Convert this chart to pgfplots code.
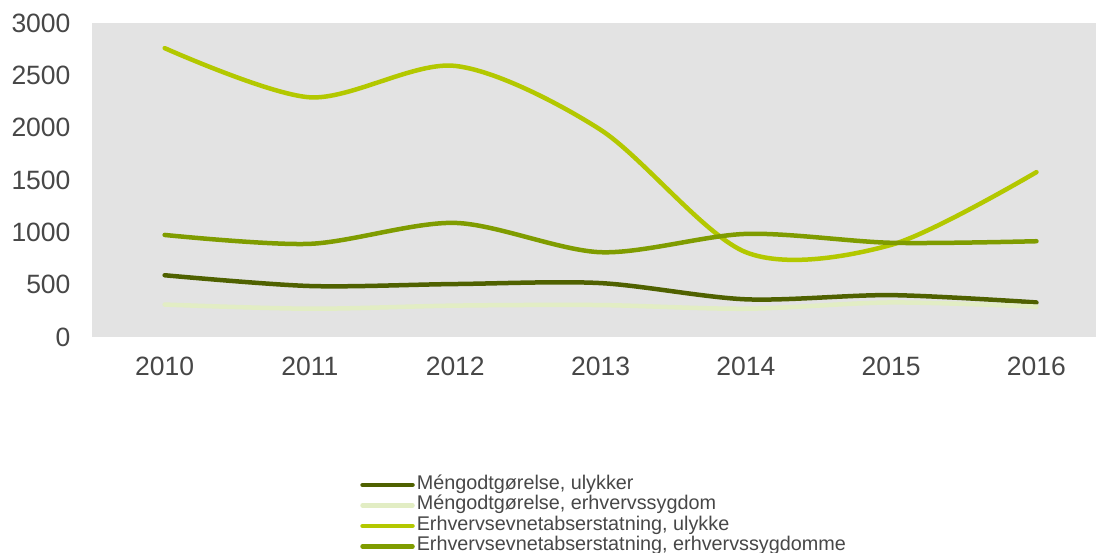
\documentclass[border=0pt]{standalone}
\usepackage{pgfplots}
\pgfplotsset{compat=1.18}
\usepackage{fontspec}
\setmainfont{Liberation Sans}
\definecolor{cA}{HTML}{4F6100}
\definecolor{cB}{HTML}{E2EDC4}
\definecolor{cC}{HTML}{B3C800}
\definecolor{cD}{HTML}{7F9C00}
\definecolor{txt}{HTML}{474747}
\definecolor{bg}{HTML}{E3E3E3}
\begin{document}
\begin{tikzpicture}
\begin{axis}[
  at={(92pt,216pt)}, anchor=south west,
  scale only axis, width=1004pt, height=314pt,
  xmin=2009.5, xmax=2016.41, ymin=0, ymax=3000,
  xtick={2010,2011,2012,2013,2014,2015,2016},
  ytick={0,500,1000,1500,2000,2500,3000},
  /pgf/number format/1000 sep={},
  /pgf/number format/assume math mode=true,
  tick label style={font=\fontsize{26.5}{26.5}\selectfont, text=txt},
  xticklabel style={yshift=-16pt},
  yticklabel style={xshift=-18pt},
  major tick length=0pt,
  axis line style={draw=none},
  axis background/.style={fill=bg},
  clip=false,
  legend style={at={(rel axis cs:0.267,-0.438)}, anchor=north west,
    draw=none, fill=none, inner sep=0pt,
    font=\fontsize{19.8}{21}\selectfont, text=txt,
    nodes={inner sep=0pt, text height=14.5pt, text depth=6pt, anchor=west},
    column sep=2pt},
  legend cell align=left,
  legend image code/.code={\draw[#1, line width=4.5pt, line cap=round] (0pt,0pt) -- (50pt,0pt);},
  every axis plot/.append style={line width=4.5pt, line cap=round, smooth, tension=0.5, no marks},
]
\addplot[cA] coordinates {(2010,590) (2011,487) (2012,506) (2013,515) (2014,360) (2015,400) (2016,330)};
\addlegendentry{Méngodtgørelse, ulykker}
\addplot[cB] coordinates {(2010,310) (2011,270) (2012,300) (2013,305) (2014,270) (2015,330) (2016,290)};
\addlegendentry{Méngodtgørelse, erhvervssygdom}
\addplot[cC] coordinates {(2010,2760) (2011,2290) (2012,2590) (2013,1980) (2014,810) (2015,880) (2016,1575)};
\addlegendentry{Erhvervsevnetabserstatning, ulykke}
\addplot[cD] coordinates {(2010,975) (2011,890) (2012,1090) (2013,810) (2014,985) (2015,900) (2016,915)};
\addlegendentry{Erhvervsevnetabserstatning, erhvervssygdomme}
\end{axis}
\pgfresetboundingbox
\path[use as bounding box] (0,0) rectangle (1096pt,553pt);
\end{tikzpicture}
\end{document}
